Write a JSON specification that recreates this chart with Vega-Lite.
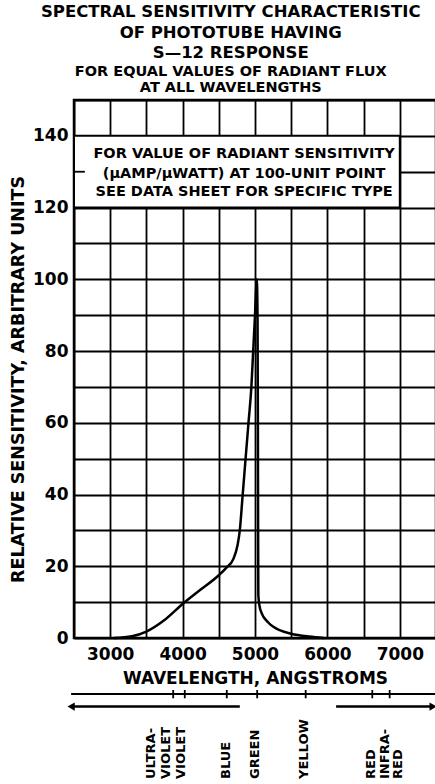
{
  "$schema": "https://vega.github.io/schema/vega-lite/v6.json",
  "padding": {"left": 8, "top": 4, "right": 2, "bottom": 0},
  "background": "white",
  "config": {"view": {"stroke": null}, "font": "DejaVu Sans"},
  "title": {
    "text": ["SPECTRAL SENSITIVITY CHARACTERISTIC", "OF PHOTOTUBE HAVING", "S—12 RESPONSE"],
    "subtitle": ["FOR EQUAL VALUES OF RADIANT FLUX", "AT ALL WAVELENGTHS"],
    "font": "DejaVu Sans", "fontSize": 16.5, "fontWeight": "bold", "lineHeight": 20.5, "color": "black",
    "subtitleFont": "DejaVu Sans", "subtitleFontSize": 14.5, "subtitleFontWeight": "bold", "subtitleLineHeight": 16.5,
    "subtitleColor": "black", "subtitlePadding": 3, "offset": 4, "anchor": "middle", "dx": 8
  },
  "datasets": {
    "curve": [
      {"wavelength": 3050, "sensitivity": 0},
      {"wavelength": 3300, "sensitivity": 0.5},
      {"wavelength": 3500, "sensitivity": 1.8},
      {"wavelength": 3750, "sensitivity": 5},
      {"wavelength": 4000, "sensitivity": 9.5},
      {"wavelength": 4250, "sensitivity": 13.5},
      {"wavelength": 4500, "sensitivity": 17.5},
      {"wavelength": 4600, "sensitivity": 19.5},
      {"wavelength": 4700, "sensitivity": 22},
      {"wavelength": 4760, "sensitivity": 26},
      {"wavelength": 4790, "sensitivity": 30},
      {"wavelength": 4830, "sensitivity": 40},
      {"wavelength": 4870, "sensitivity": 50},
      {"wavelength": 4910, "sensitivity": 60},
      {"wavelength": 4950, "sensitivity": 70},
      {"wavelength": 4975, "sensitivity": 80},
      {"wavelength": 5000, "sensitivity": 90},
      {"wavelength": 5025, "sensitivity": 100},
      {"wavelength": 5035, "sensitivity": 90},
      {"wavelength": 5040, "sensitivity": 60},
      {"wavelength": 5043, "sensitivity": 30},
      {"wavelength": 5046, "sensitivity": 12},
      {"wavelength": 5062, "sensitivity": 9},
      {"wavelength": 5090, "sensitivity": 7},
      {"wavelength": 5180, "sensitivity": 4.4},
      {"wavelength": 5350, "sensitivity": 2.1},
      {"wavelength": 5500, "sensitivity": 1.2},
      {"wavelength": 5750, "sensitivity": 0.4},
      {"wavelength": 5950, "sensitivity": 0}
    ],
    "note": [
      {"wavelength": 4850, "sensitivity": 134.9, "line": "FOR VALUE OF RADIANT SENSITIVITY"},
      {"wavelength": 4850, "sensitivity": 129.4, "line": "(μAMP/μWATT) AT 100-UNIT POINT"},
      {"wavelength": 4850, "sensitivity": 124.3, "line": "SEE DATA SHEET FOR SPECIFIC TYPE"}
    ],
    "box": [{"from": 2500, "to": 7000, "low": 120, "high": 140}],
    "stub": [{"from": 2500, "to": 2650, "at": 130}],
    "scaleline": [{"from": 2460, "to": 7500}],
    "marks": [{"wavelength": 3870}, {"wavelength": 4030}, {"wavelength": 4610}, {"wavelength": 5030}, {"wavelength": 5700}, {"wavelength": 6620}, {"wavelength": 6860}],
    "bands": [
      {"band": "ultraviolet", "from": 2460, "to": 4790, "head": 2460, "shape": "triangle-left"},
      {"band": "infrared", "from": 6120, "to": 7460, "head": 7460, "shape": "triangle-right"}
    ],
    "colors": [
      {"wavelength": 3560, "label": "ULTRA-"},
      {"wavelength": 3770, "label": "VIOLET"},
      {"wavelength": 3980, "label": "VIOLET"},
      {"wavelength": 4600, "label": "BLUE"},
      {"wavelength": 5000, "label": "GREEN"},
      {"wavelength": 5680, "label": "YELLOW"},
      {"wavelength": 6600, "label": "RED"},
      {"wavelength": 6800, "label": "INFRA-"},
      {"wavelength": 6975, "label": "RED"}
    ]
  },
  "spacing": 1,
  "resolve": {"scale": {"x": "independent", "y": "independent"}},
  "vconcat": [
    {
      "width": 362,
      "height": 538,
      "view": {"stroke": "black", "strokeWidth": 2.5},
      "resolve": {"axis": {"x": "independent", "y": "independent"}},
      "layer": [
        {
          "data": {"name": "box"},
          "mark": {"type": "rect", "fill": "white", "stroke": "black", "strokeWidth": 2},
          "encoding": {
            "x": {
              "field": "from", "type": "quantitative",
              "scale": {"domain": [2500, 7500], "nice": false, "zero": false},
              "axis": {
                "orient": "top", "values": [2500, 3000, 3500, 4000, 4500, 5000, 5500, 6000, 6500, 7000, 7500],
                "grid": true, "gridColor": "black", "gridWidth": 1.8, "gridOpacity": 1,
                "labels": false, "ticks": false, "domain": false, "title": null
              }
            },
            "x2": {"field": "to"},
            "y": {
              "field": "low", "type": "quantitative",
              "scale": {"domain": [0, 150], "nice": false},
              "axis": {
                "orient": "right", "values": [0, 10, 20, 30, 40, 50, 60, 70, 80, 90, 100, 110, 120, 130, 140, 150],
                "grid": true, "gridColor": "black", "gridWidth": 1.8, "gridOpacity": 1,
                "labels": false, "ticks": false, "domain": false, "title": null
              }
            },
            "y2": {"field": "high"}
          }
        },
        {
          "data": {"name": "curve"},
          "mark": {"type": "line", "color": "black", "strokeWidth": 2.5, "interpolate": "monotone"},
          "encoding": {
            "x": {
              "field": "wavelength", "type": "quantitative",
              "axis": {
                "orient": "bottom", "values": [3000, 4000, 5000, 6000, 7000], "format": "d",
                "title": "WAVELENGTH,  ANGSTROMS",
                "grid": false, "ticks": false, "domain": false, "labelFlush": false, "labelOverlap": false,
                "labelFontSize": 17, "labelFontWeight": "bold", "labelColor": "black", "labelPadding": 8,
                "titleFontSize": 17, "titleFontWeight": "bold", "titleColor": "black", "titlePadding": 8
              }
            },
            "y": {
              "field": "sensitivity", "type": "quantitative",
              "axis": {
                "orient": "left", "values": [0, 20, 40, 60, 80, 100, 120, 140],
                "title": "RELATIVE SENSITIVITY, ARBITRARY UNITS", "titleY": 279,
                "grid": false, "ticks": false, "domain": false, "labelFlush": false, "labelOverlap": false,
                "labelFontSize": 17, "labelFontWeight": "bold", "labelColor": "black", "labelPadding": 6,
                "titleFontSize": 17.5, "titleFontWeight": "bold", "titleColor": "black", "titlePadding": 5
              }
            }
          }
        },
        {
          "data": {"name": "stub"},
          "mark": {"type": "rule", "color": "black", "strokeWidth": 1.8},
          "encoding": {
            "x": {"field": "from", "type": "quantitative", "axis": null},
            "x2": {"field": "to"},
            "y": {"field": "at", "type": "quantitative", "axis": null}
          }
        },
        {
          "data": {"name": "note"},
          "mark": {"type": "text", "fontSize": 14.5, "fontWeight": "bold", "color": "black", "align": "center", "baseline": "middle"},
          "encoding": {
            "x": {"field": "wavelength", "type": "quantitative", "axis": null},
            "y": {"field": "sensitivity", "type": "quantitative", "axis": null},
            "text": {"field": "line"}
          }
        }
      ]
    },
    {
      "width": 362,
      "height": 92,
      "layer": [
        {
          "data": {"name": "scaleline"},
          "mark": {"type": "rule", "color": "black", "strokeWidth": 2, "clip": false},
          "encoding": {
            "x": {"field": "from", "type": "quantitative", "scale": {"domain": [2500, 7500], "nice": false, "zero": false}, "axis": null},
            "x2": {"field": "to"},
            "y": {"datum": 95.7, "type": "quantitative", "scale": {"domain": [0, 100], "nice": false}, "axis": null}
          }
        },
        {
          "data": {"name": "marks"},
          "mark": {"type": "rule", "color": "black", "strokeWidth": 1.8},
          "encoding": {
            "x": {"field": "wavelength", "type": "quantitative"},
            "y": {"datum": 91},
            "y2": {"datum": 100}
          }
        },
        {
          "data": {"name": "bands"},
          "mark": {"type": "rule", "color": "black", "strokeWidth": 2.5, "clip": false},
          "encoding": {
            "x": {"field": "from", "type": "quantitative"},
            "x2": {"field": "to"},
            "y": {"datum": 82}
          }
        },
        {
          "data": {"name": "bands"},
          "mark": {"type": "point", "filled": true, "color": "black", "size": 70, "opacity": 1, "clip": false},
          "encoding": {
            "x": {"field": "head", "type": "quantitative"},
            "y": {"datum": 82},
            "shape": {"field": "shape", "type": "nominal", "scale": null}
          }
        },
        {
          "data": {"name": "colors"},
          "mark": {"type": "text", "angle": 270, "align": "left", "baseline": "middle", "fontSize": 13, "fontWeight": "bold", "color": "black"},
          "encoding": {
            "x": {"field": "wavelength", "type": "quantitative"},
            "y": {"datum": 3.3},
            "text": {"field": "label"}
          }
        }
      ]
    }
  ]
}
